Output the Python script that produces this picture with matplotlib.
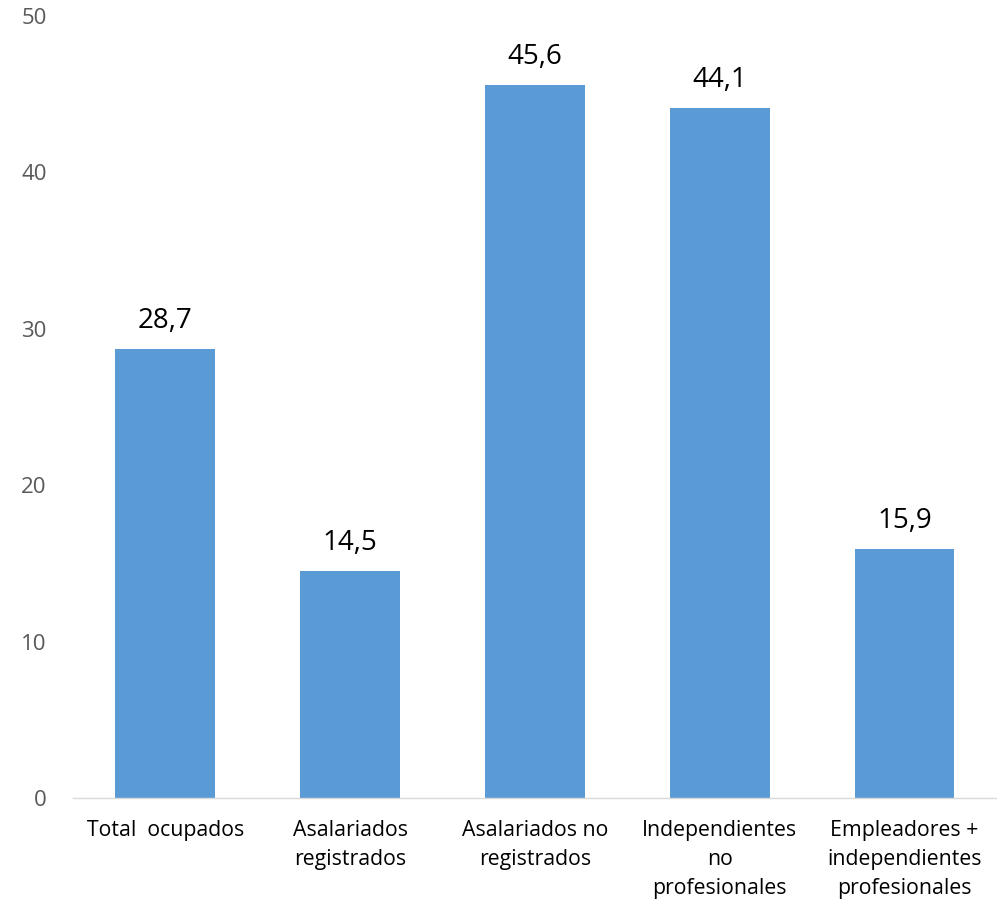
import matplotlib
matplotlib.use("Agg")
import matplotlib.pyplot as plt
import numpy as np

categories = [
    "Total  ocupados",
    "Asalariados\nregistrados",
    "Asalariados no\nregistrados",
    "Independientes\nno\nprofesionales",
    "Empleadores +\nindependientes\nprofesionales",
]
values = [28.7, 14.5, 45.6, 44.1, 15.9]
yticks = [0, 10, 20, 30, 40, 50]

plt.rcParams["font.family"] = ["Open Sans", "DejaVu Sans"]

fig = plt.figure(figsize=(9.97, 9.18), dpi=100)
ax = fig.add_axes([0.0732, 0.1307, 0.9268, 0.852])

x = np.arange(len(categories))
ax.bar(x, values, width=0.54, color="#5b9bd5", zorder=2)
for xi, v in zip(x, values):
    ax.text(xi, v + 0.9, f"{v:.1f}".replace(".", ","), ha="center", va="bottom",
            fontsize=20, color="#000000")

ax.set_xlim(-0.5, len(categories) - 0.5)
ax.set_ylim(0, 50)
ax.set_yticks(yticks)
ax.set_yticklabels([str(t) for t in yticks], fontsize=16, color="#595959")
ax.set_xticks(x)
ax.set_xticklabels(categories, fontsize=15.3, color="#000000", linespacing=1.5)
ax.tick_params(axis="both", length=0)
ax.tick_params(axis="y", pad=19)
ax.tick_params(axis="x", pad=16)
for s in ["top", "right", "left"]:
    ax.spines[s].set_visible(False)
ax.spines["bottom"].set_color("#d9d9d9")
ax.spines["bottom"].set_linewidth(1.0)

fig.savefig("out.png", dpi=100)
